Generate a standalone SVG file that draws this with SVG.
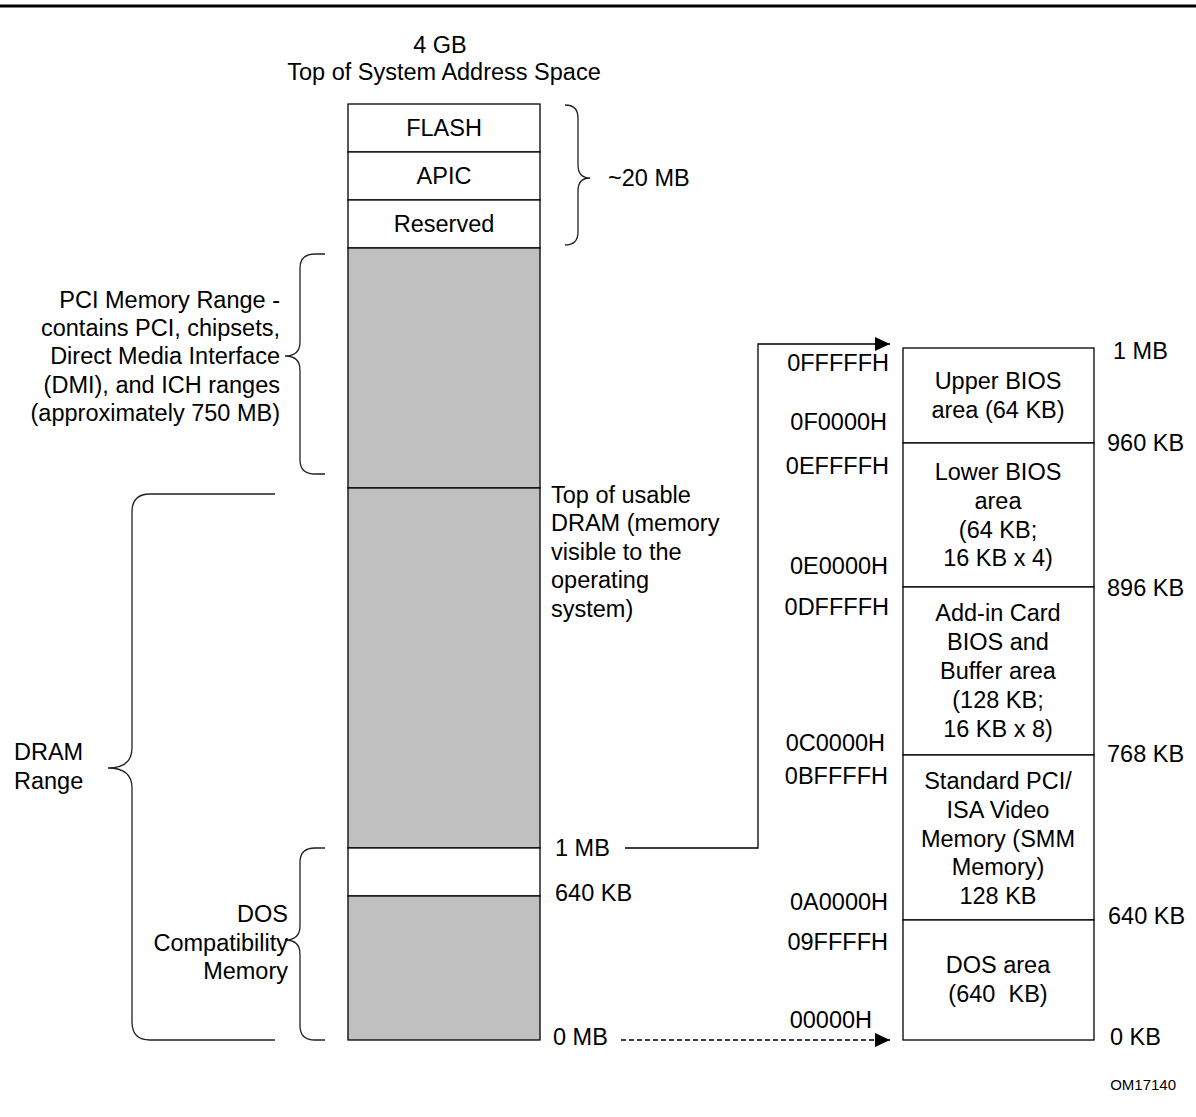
<svg xmlns="http://www.w3.org/2000/svg" width="1196" height="1117" viewBox="0 0 1196 1117">
<style>
text{font-family:"Liberation Sans",Arial,sans-serif;font-size:23.5px;fill:#000}
.m{text-anchor:middle}
.e{text-anchor:end}
.box{stroke:#000;stroke-width:1.3}
.w{fill:#fff}
.g{fill:#c0c0c0}
.br{fill:none;stroke:#222;stroke-width:1.3}
.ln{fill:none;stroke:#000;stroke-width:1.3}
</style>
<defs>
<marker id="ah" markerWidth="15" markerHeight="14" refX="15" refY="7" orient="auto" markerUnits="userSpaceOnUse">
<path d="M0,0 L15,7 L0,14 Z" fill="#000"/>
</marker>
</defs>
<rect width="1196" height="1117" fill="#fff"/>
<line x1="0" y1="6" x2="1196" y2="6" stroke="#000" stroke-width="3"/>
<g id="title">
<text class="m" x="440" y="53">4 GB</text>
<text class="m" x="444" y="80">Top of System Address Space</text>
</g>
<g id="main-column">
<rect class="box w" x="348" y="104" width="192" height="48"/>
<text class="m" x="444" y="136">FLASH</text>
<rect class="box w" x="348" y="152" width="192" height="48"/>
<text class="m" x="444" y="184">APIC</text>
<rect class="box w" x="348" y="200" width="192" height="48"/>
<text class="m" x="444" y="232">Reserved</text>
<rect class="box g" x="348" y="248" width="192" height="240"/>
<rect class="box g" x="348" y="488" width="192" height="360"/>
<rect class="box w" x="348" y="848" width="192" height="48"/>
<rect class="box g" x="348" y="896" width="192" height="144"/>
</g>
<g id="brace-20mb">
<path class="br" d="M565,105 Q578,105 578,118 L578,165 Q578,178 590,178 Q578,178 578,191 L578,232 Q578,245 565,245"/>
<text x="608" y="186">~20 MB</text>
</g>
<g id="brace-pci">
<path class="br" d="M325,254 L315,254 Q300,254 300,268 L300,342 Q300,356 285,356 Q300,356 300,370 L300,460 Q300,474 315,474 L325,474"/>
<text class="e" x="280" y="308">PCI Memory Range -</text>
<text class="e" x="280" y="336">contains PCI, chipsets,</text>
<text class="e" x="280" y="364">Direct Media Interface</text>
<text class="e" x="280" y="393">(DMI), and ICH ranges</text>
<text class="e" x="280" y="421">(approximately 750 MB)</text>
</g>
<g id="brace-dram">
<path class="br" d="M275,494 L150,494 Q132,494 132,512 L132,748 Q132,768 108,768 Q132,768 132,788 L132,1022 Q132,1040 150,1040 L275,1040"/>
<text x="14" y="760">DRAM</text>
<text x="14" y="789">Range</text>
</g>
<g id="brace-dos">
<path class="br" d="M325,848 L315,848 Q300,848 300,862 L300,926 Q300,940 285,940 Q300,940 300,954 L300,1026 Q300,1040 315,1040 L325,1040"/>
<text class="e" x="288" y="922">DOS</text>
<text class="e" x="288" y="951">Compatibility</text>
<text class="e" x="288" y="979">Memory</text>
</g>
<g id="top-usable">
<text x="551" y="503">Top of usable</text>
<text x="551" y="531">DRAM (memory</text>
<text x="551" y="560">visible to the</text>
<text x="551" y="588">operating</text>
<text x="551" y="617">system)</text>
</g>
<g id="mid-labels">
<text x="555" y="856">1 MB</text>
<text x="555" y="901">640 KB</text>
<text x="553" y="1045">0 MB</text>
</g>
<g id="connectors">
<path class="ln" d="M625,848 L758,848 L758,344 L890,344" marker-end="url(#ah)"/>
<path class="ln" d="M621,1040 L890,1040" stroke-dasharray="5,3" marker-end="url(#ah)"/>
</g>
<g id="right-column">
<rect class="box w" x="903" y="348" width="191" height="95"/>
<text class="m" x="998" y="389">Upper BIOS</text>
<text class="m" x="998" y="418">area (64 KB)</text>
<rect class="box w" x="903" y="443" width="191" height="144"/>
<text class="m" x="998" y="480">Lower BIOS</text>
<text class="m" x="998" y="509">area</text>
<text class="m" x="998" y="538">(64 KB;</text>
<text class="m" x="998" y="566">16 KB x 4)</text>
<rect class="box w" x="903" y="587" width="191" height="168"/>
<text class="m" x="998" y="621">Add-in Card</text>
<text class="m" x="998" y="650">BIOS and</text>
<text class="m" x="998" y="679">Buffer area</text>
<text class="m" x="998" y="708">(128 KB;</text>
<text class="m" x="998" y="737">16 KB x 8)</text>
<rect class="box w" x="903" y="755" width="191" height="165"/>
<text class="m" x="998" y="789">Standard PCI/</text>
<text class="m" x="998" y="818">ISA Video</text>
<text class="m" x="998" y="847">Memory (SMM</text>
<text class="m" x="998" y="875">Memory)</text>
<text class="m" x="998" y="904">128 KB</text>
<rect class="box w" x="903" y="920" width="191" height="120"/>
<text class="m" x="998" y="973">DOS area</text>
<text class="m" x="998" y="1002" xml:space="preserve">(640  KB)</text>
</g>
<g id="hex-labels">
<text class="e" x="889" y="371">0FFFFFH</text>
<text class="e" x="887" y="430">0F0000H</text>
<text class="e" x="889" y="474">0EFFFFH</text>
<text class="e" x="888" y="574">0E0000H</text>
<text class="e" x="889" y="615">0DFFFFH</text>
<text class="e" x="885" y="751">0C0000H</text>
<text class="e" x="888" y="784">0BFFFFH</text>
<text class="e" x="888" y="910">0A0000H</text>
<text class="e" x="888" y="950">09FFFFH</text>
<text class="e" x="872" y="1028">00000H</text>
</g>
<g id="size-labels">
<text x="1113" y="359">1 MB</text>
<text x="1107" y="451">960 KB</text>
<text x="1107" y="596">896 KB</text>
<text x="1107" y="762">768 KB</text>
<text x="1108" y="924">640 KB</text>
<text x="1110" y="1045">0 KB</text>
</g>
<text x="1176" y="1090" text-anchor="end" style="font-size:15px">OM17140</text>
</svg>
